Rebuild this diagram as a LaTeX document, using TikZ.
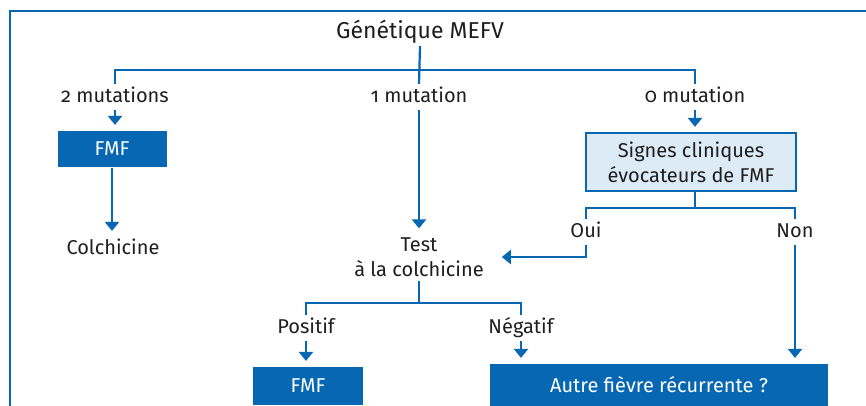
\documentclass[tikz,border=0pt]{standalone}
\usepackage{fontspec}
\setmainfont{Fira Sans}[Numbers=OldStyle]
\usetikzlibrary{arrows.meta}
\definecolor{mefvblue}{RGB}{8,103,178}
\definecolor{mefvlight}{RGB}{221,235,247}
\definecolor{ink}{RGB}{30,30,30}
\tikzset{
  lbl/.style={inner sep=3pt, text height=14pt, text depth=4pt},
  darkbox/.style={fill=mefvblue, text=white, inner sep=0pt},
  lightbox/.style={draw=mefvblue, fill=mefvlight, align=center, inner sep=0pt},
  arr/.style={-{Triangle[width=14pt,length=9pt]}, shorten >=5pt},
}

\begin{document}
\begin{tikzpicture}[x=1pt, y=-1pt, line width=2.2pt, color=mefvblue, text=ink,
    font=\fontsize{20}{25}\selectfont]
    \clip (0,0) rectangle (866,405);
    % Frame
    \draw[line width=2.6pt] (10,420) |- (880,11);
    % Top level
    \node[lbl, font=\fontsize{23}{25}\selectfont] (title) at (420,33) {Génétique MEFV};
    \coordinate (br) at (419,70);
    \node[lbl] (lbl2) at (115,97) {2 mutations};
    \node[lbl] (lbl1) at (419,97) {1 mutation};
    \node[lbl] (lbl0) at (695,97) {0 mutation};
    % Left branch
    \node[darkbox, minimum width=109pt, minimum height=36pt] (fmfA) at (112,149) {FMF};
    \node[lbl] (colch) at (113,249) {Colchicine};
    % Middle branch
    \node[align=center, inner sep=3pt] (test) at (419,257) {Test\\à la colchicine};
    % Right branch
    \node[lightbox, minimum width=210pt, minimum height=58pt] (signes) at (691,162)
      {Signes cliniques\\évocateurs de FMF};
    \coordinate (sbr) at (695,208);
    \node[lbl] (oui) at (586,232) {Oui};
    \node[lbl] (non) at (795,232) {Non};
    % Bottom
    \coordinate (tbr) at (419,303);
    \node[lbl] (pos) at (306,328) {Positif};
    \node[lbl] (neg) at (521,328) {Négatif};
    \node[darkbox, minimum width=110pt, minimum height=38pt] (fmfB) at (308,386) {FMF};
    \node[darkbox, minimum width=338pt, minimum height=42pt] (autre) at (659,385)
      {Autre fièvre récurrente ?};
    % Connectors
    \draw (title.south) -- (lbl1.north);
    \draw (lbl2.north) |- (br) -| (lbl0.north);
    \draw[arr] (lbl2.south) -- (lbl2.south |- fmfA.north);
    \draw[arr] (fmfA.south) -- (fmfA.south |- colch.north);
    \draw[arr] (lbl1) -- (test);
    \draw[arr] (lbl0) -- (lbl0 |- signes.north);
    \draw (signes.south -| lbl0) -- (sbr);
    \draw (oui.north) |- (sbr) -| (non.north);
    \draw[arr] (oui.south) |- ([xshift=9pt]test.east);
    \draw[arr] (non.south) -- (non.south |- autre.north);
    \draw (test.south) -- (tbr);
    \draw (pos.north) |- (tbr) -| (neg.north);
    \draw[arr] (pos.south) -- (pos.south |- fmfB.north);
    \draw[arr] (neg.south) -- (neg.south |- autre.north);
\end{tikzpicture}
\end{document}
